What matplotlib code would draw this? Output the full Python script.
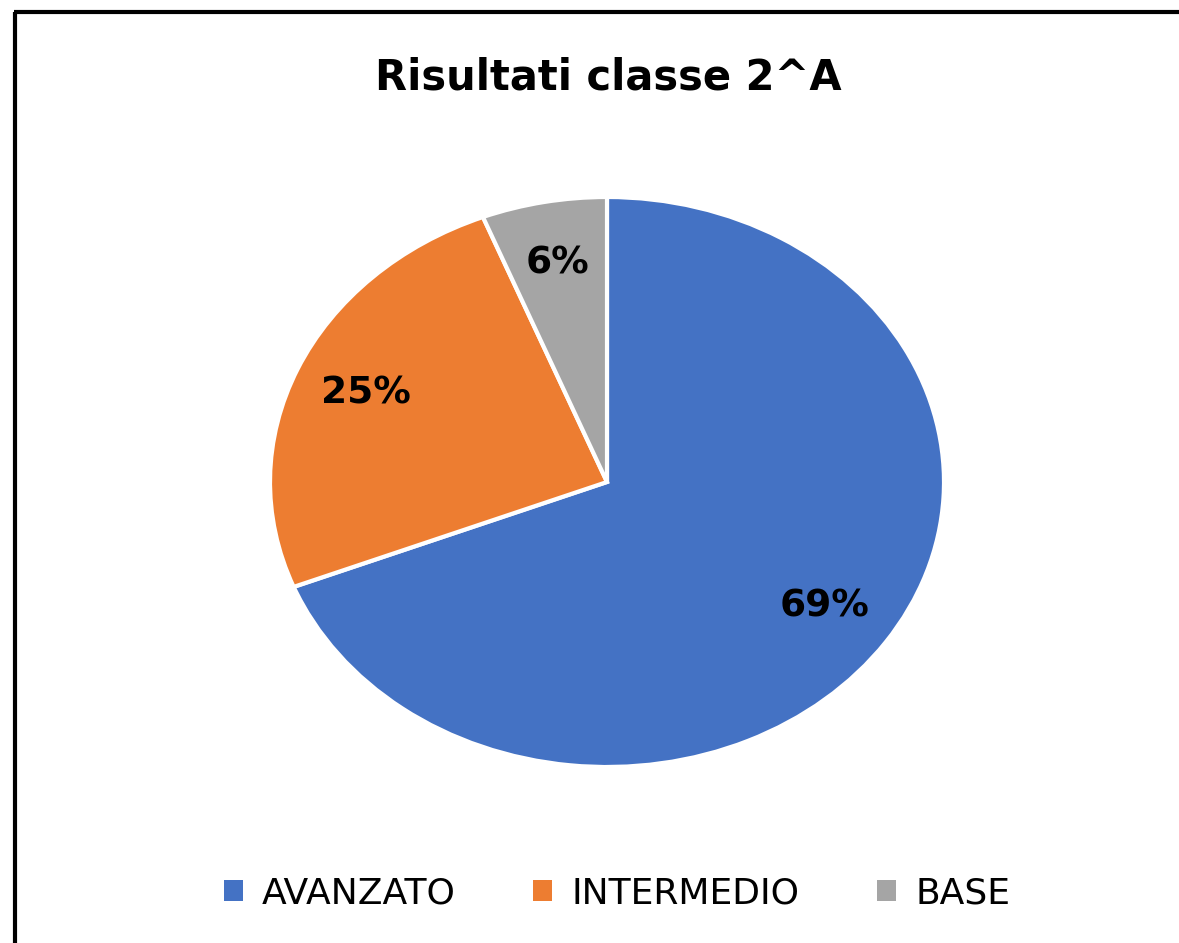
import matplotlib.pyplot as plt
from matplotlib.patches import Patch
from matplotlib.lines import Line2D

categories = ['AVANZATO', 'INTERMEDIO', 'BASE']
values = [69, 25, 6]
colors = ['#4472C4', '#ED7D31', '#A5A5A5']

W, H = 1179, 943
fig = plt.figure(figsize=(W / 100, H / 100), dpi=100)
plt.rcParams['font.family'] = 'DejaVu Sans'

# pie area (stretched ellipse, like the original)
ax = fig.add_axes([270 / W, 1 - 767 / H, 674 / W, 570 / H])
wedges, texts, autotexts = ax.pie(
    values, colors=colors, startangle=90, counterclock=False,
    autopct='%1.0f%%', pctdistance=0.78,
    wedgeprops=dict(edgecolor='white', linewidth=3),
    textprops=dict(fontsize=27, fontweight='bold', color='black'))
ax.set_aspect('auto')
ax.set_xlim(-1, 1)
ax.set_ylim(-1, 1)

fig.text(608 / W, 1 - 89 / H, 'Risultati classe 2^A', ha='center', va='baseline',
         fontsize=30, fontweight='bold')

handles = [Patch(facecolor=c, edgecolor='none') for c in colors]
fig.legend(handles, categories, loc='center', bbox_to_anchor=(617 / W, 1 - 893 / H),
           ncol=3, frameon=False, handlelength=0.53, handleheight=0.53,
           handletextpad=0.53, columnspacing=2.15, borderpad=0,
           prop=dict(size=26))

# frame lines at top and left
fig.add_artist(Line2D([15 / W, 15 / W], [0, 1 - 11.5 / H], transform=fig.transFigure,
                      color='black', linewidth=3, solid_capstyle='butt'))
fig.add_artist(Line2D([13.5 / W, 1], [1 - 11.5 / H, 1 - 11.5 / H], transform=fig.transFigure,
                      color='black', linewidth=3, solid_capstyle='butt'))

fig.savefig('out.png', dpi=100)
